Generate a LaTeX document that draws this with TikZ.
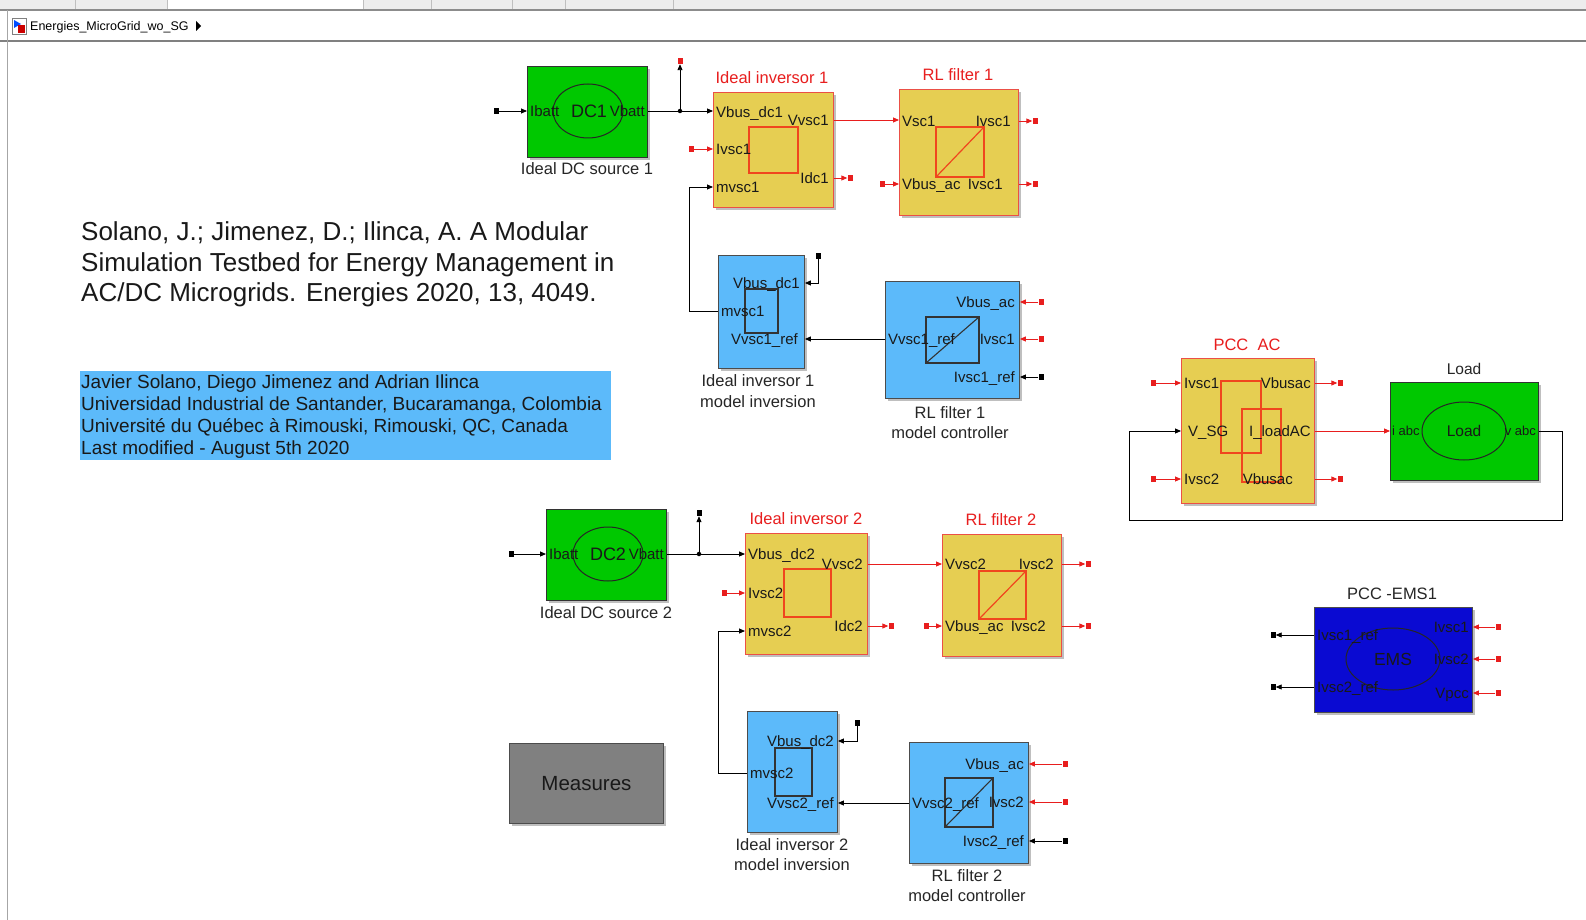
\documentclass[tikz,border=0pt]{standalone}
\usepackage{fontspec}
\setmainfont{Liberation Sans}
\usetikzlibrary{arrows.meta,shadows,calc}
\definecolor{sgreen}{RGB}{0,200,0}
\definecolor{syel}{RGB}{230,206,82}
\definecolor{sred}{RGB}{232,30,30}
\definecolor{sorange}{RGB}{240,70,30}
\definecolor{sborder}{RGB}{235,80,70}
\definecolor{sblue}{RGB}{92,186,250}
\definecolor{sdblue}{RGB}{10,10,210}
\definecolor{sgray}{RGB}{128,128,128}
\begin{document}
\begin{tikzpicture}[x=1pt,y=-1pt,>={Triangle[length=6pt,width=5pt]},
  blk/.style={rectangle,draw,anchor=north west,inner sep=0,line width=0.9pt,
    drop shadow={shadow xshift=2.5pt,shadow yshift=-2.5pt,opacity=0.5}},
  yblk/.style={blk,fill=syel,draw=sborder},
  gblk/.style={blk,fill=sgreen,draw=black!80},
  bblk/.style={blk,fill=sblue,draw=black!70},
  dblk/.style={blk,fill=sdblue,draw=black!70},
  mblk/.style={blk,fill=sgray,draw=black!70},
  term/.style={rectangle,fill=black,minimum width=5pt,minimum height=6pt,inner sep=0},
  rterm/.style={term,fill=sred},
  jdot/.style={circle,fill=black,minimum size=4.5pt,inner sep=0},
  sig/.style={draw=black,line width=0.9pt,->},
  rsig/.style={draw=sred,line width=0.9pt,->},
  wire/.style={draw=black,line width=0.9pt},
  p15/.style={inner sep=0,font=\fontsize{15}{17}\selectfont,text height=10.8pt,text depth=0pt,text=black!90},
  p13/.style={p15,font=\fontsize{13}{15}\selectfont,text height=9.4pt},
  p18/.style={p15,font=\fontsize{18}{20}\selectfont,text height=13pt},
  ttl/.style={inner sep=0,font=\fontsize{16.5}{19}\selectfont,text height=11.9pt,text depth=0pt,text=black!85},
  rttl/.style={ttl,text=sred},
  cite/.style={inner sep=0,font=\fontsize{26}{30}\selectfont,text height=18.7pt,text depth=0pt,anchor=west,text=black!90},
  info/.style={inner sep=0,font=\fontsize{19}{22}\selectfont,text height=13.7pt,text depth=0pt,anchor=west,text=black!90},
  insq/.style={draw=sorange,line width=1.2pt},
  insqk/.style={draw=black!80,line width=1.1pt}
]
\useasboundingbox (0,0) rectangle (1586,920);
\fill[white] (0,0) rectangle (1586,920);
% ---- window chrome ----
\fill[black!7] (0,0) rectangle (1586,9);
\fill[white] (167,0) rectangle (363,9);
\foreach \xx in {75,167,363,431,512,565,673}{\draw[black!25,line width=0.6pt] (\xx,0) -- (\xx,9);}
\draw[black!45,line width=1.5pt] (0,9.8) -- (1586,9.8);
\draw[black!50,line width=2pt] (0,41.5) -- (1586,41.5);
\draw[black!35,line width=0.8pt] (7.5,10) -- (7.5,920);
\draw[black!50,fill=white,line width=0.6pt] (12,18) rectangle (26,34);
\fill[blue!70!cyan] (14,20) -- (21,24) -- (14,28) -- cycle;
\fill[red!80!black] (18,25) rectangle (25,33);
\node[inner sep=0,anchor=west,font=\fontsize{12.5}{14}\selectfont,text height=9pt,text depth=0pt] (crumb) at (30,26) {Energies\_MicroGrid\_wo\_SG};
\fill[black] (196,21) -- (201,26) -- (196,31) -- cycle;

% ---- citation ----
\node[cite] (c1) at (81,231) {Solano, J.; Jimenez, D.; Ilinca, A. A Modular};
\node[cite] (c2) at (81,262) {Simulation Testbed for Energy Management in};
\node[cite] (c3) at (81,292) {AC/DC Microgrids. Energies 2020, 13, 4049.};
\node[fill=sblue,anchor=north west,minimum width=531pt,minimum height=89pt,inner sep=0] (infobox) at (80,371) {};
\node[info] (i1) at (81,382) {Javier Solano, Diego Jimenez and Adrian Ilinca};
\node[info] (i2) at (81,404) {Universidad Industrial de Santander, Bucaramanga, Colombia};
\node[info] (i3) at (81,426) {Université du Québec à Rimouski, Rimouski, QC, Canada};
\node[info] (i4) at (81,448) {Last modified - August 5th 2020};

% ---- DC source 1 ----
\node[gblk,minimum width=120pt,minimum height=91pt] (dc1) at (527,66) {};
\draw[black!85,line width=1pt] (588,111) ellipse [x radius=35pt,y radius=27pt];
\node[p15,anchor=west] (dc1a) at (530,111) {Ibatt};
\node[p18] (dc1b) at (589,111) {DC1};
\node[p15,anchor=east] (dc1c) at (645,111) {Vbatt};
\node[ttl] (dc1l) at (587,169) {Ideal DC source 1};
\node[term] (tdc1) at (496,111) {};
\draw[sig] (tdc1) -- (dc1.west |- tdc1);
\node[jdot] (j1) at (680,111) {};
\draw[wire] (dc1.east |- j1) -- (j1);
\node[rterm] (tj1) at (680,61) {};
\draw[sig] (j1) -- (tj1);

% ---- Ideal inversor 1 ----
\node[yblk,minimum width=120pt,minimum height=115pt] (inv1) at (713,92) {};
\node[rttl] (inv1t) at (772,78) {Ideal inversor 1};
\draw[insq] (749,127) rectangle (798,173);
\node[p15,anchor=west] (inv1a) at (716,112) {Vbus\_dc1};
\node[p15,anchor=east] (inv1b) at (829,120) {Vvsc1};
\node[p15,anchor=west] (inv1c) at (716,149) {Ivsc1};
\node[p15,anchor=east] (inv1d) at (829,178) {Idc1};
\node[p15,anchor=west] (inv1e) at (716,187) {mvsc1};
\draw[sig] (j1) -- (inv1.west |- j1);
\node[rterm] (ti1) at (691,149) {};
\draw[rsig] (ti1) -- (inv1.west |- ti1);
\node[rterm] (to1) at (850,178) {};
\draw[rsig] (inv1.east |- to1) -- (to1);

% ---- RL filter 1 ----
\node[yblk,minimum width=119pt,minimum height=126pt] (rl1) at (899,89) {};
\node[rttl] (rl1t) at (958,75) {RL filter 1};
\draw[insq] (936,127) rectangle (984,177);
\draw[insq] (936,177) -- (984,127);
\node[p15,anchor=west] (rl1a) at (902,121) {Vsc1};
\node[p15,anchor=east] (rl1b) at (1011,121) {Ivsc1};
\node[p15,anchor=west] (rl1c) at (902,184) {Vbus\_ac};
\node[p15,anchor=east] (rl1d) at (1003,184) {Ivsc1};
\draw[rsig] (inv1.east |- 0,120) -- (rl1.west |- 0,120);
\node[rterm] (tr1a) at (1035,121) {};
\node[rterm] (tr1b) at (1035,184) {};
\node[rterm] (tr1c) at (882,184) {};
\draw[rsig] (rl1.east |- tr1a) -- (tr1a);
\draw[rsig] (rl1.east |- tr1b) -- (tr1b);
\draw[rsig] (tr1c) -- (rl1.west |- tr1c);

% ---- Ideal inversor 1 model inversion ----
\node[bblk,minimum width=86pt,minimum height=113pt] (minv1) at (718,255) {};
\draw[insqk] (745,289) rectangle (778,333);
\node[p15,anchor=east] (minv1a) at (800,283) {Vbus\_dc1};
\node[p15,anchor=west] (minv1b) at (721,311) {mvsc1};
\node[p15,anchor=east] (minv1c) at (798,339) {Vvsc1\_ref};
\node[ttl] (minv1l) at (758,381) {Ideal inversor 1};
\node[ttl] (minv1m) at (758,402) {model inversion};
\node[term] (tm1) at (818,256) {};
\draw[sig] (tm1) |- (minv1.east |- 0,283);
\draw[sig] (minv1.west |- 0,311) -- (689,311) |- (inv1.west |- 0,187);

% ---- RL filter 1 model controller ----
\node[bblk,minimum width=134pt,minimum height=117pt] (ctl1) at (885,281) {};
\draw[insqk] (926,317) rectangle (979,363);
\draw[insqk] (926,363) -- (979,317);
\node[p15,anchor=west] (ctl1a) at (888,339) {Vvsc1\_ref};
\node[p15,anchor=east] (ctl1b) at (1015,302) {Vbus\_ac};
\node[p15,anchor=east] (ctl1c) at (1015,339) {Ivsc1};
\node[p15,anchor=east] (ctl1d) at (1015,377) {Ivsc1\_ref};
\node[ttl] (ctl1l) at (950,413) {RL filter 1};
\node[ttl] (ctl1m) at (950,433) {model controller};
\draw[sig] (ctl1.west |- 0,339) -- (minv1.east |- 0,339);
\node[rterm] (tc1a) at (1041,302) {};
\node[rterm] (tc1b) at (1041,339) {};
\node[term] (tc1c) at (1041,377) {};
\draw[rsig] (tc1a) -- (ctl1.east |- tc1a);
\draw[rsig] (tc1b) -- (ctl1.east |- tc1b);
\draw[sig] (tc1c) -- (ctl1.east |- tc1c);

% ---- PCC AC ----
\node[yblk,minimum width=133pt,minimum height=145pt] (pcc) at (1181,358) {};
\node[rttl] (pcct) at (1247,345) {PCC\ \ AC};
\draw[insq] (1221,381) rectangle (1261,453);
\draw[insq] (1242,409) rectangle (1281,482);
\node[p15,anchor=west] (pcca) at (1184,383) {Ivsc1};
\node[p15,anchor=west] (pccb) at (1188,431) {V\_SG};
\node[p15,anchor=west] (pccc) at (1184,479) {Ivsc2};
\node[p15,anchor=east] (pccd) at (1311,383) {Vbusac};
\node[p15,anchor=east] (pcce) at (1311,431) {I\_loadAC};
\node[p15,anchor=east] (pccf) at (1293,479) {Vbusac};
\node[rterm] (tp1) at (1153,383) {};
\node[rterm] (tp2) at (1153,479) {};
\node[rterm] (tp3) at (1340,383) {};
\node[rterm] (tp4) at (1340,479) {};
\draw[rsig] (tp1) -- (pcc.west |- tp1);
\draw[rsig] (tp2) -- (pcc.west |- tp2);
\draw[rsig] (pcc.east |- tp3) -- (tp3);
\draw[rsig] (pcc.east |- tp4) -- (tp4);

% ---- Load ----
\node[gblk,minimum width=148pt,minimum height=98pt] (load) at (1390,382) {};
\node[ttl,font=\fontsize{15.5}{18}\selectfont,text height=11.2pt] (loadt) at (1464,369) {Load};
\draw[black!85,line width=1pt] (1464,431) ellipse [x radius=42pt,y radius=29pt];
\node[p15,font=\fontsize{15.5}{18}\selectfont,text height=11.2pt] (loadc) at (1464,431) {Load};
\node[p13,anchor=west] (loada) at (1392,431) {i abc};
\node[p13,anchor=east] (loadb) at (1536,431) {v abc};
\draw[rsig] (pcc.east |- 0,431) -- (load.west |- 0,431);
\draw[sig] (load.east |- 0,431) -- (1562,431) -- (1562,520) -- (1129,520) -- (1129,431) -- (pcc.west |- 0,431);

% ---- DC source 2 ----
\node[gblk,minimum width=120pt,minimum height=91pt] (dc2) at (546,509) {};
\draw[black!85,line width=1pt] (608,554) ellipse [x radius=35pt,y radius=27pt];
\node[p15,anchor=west] (dc2a) at (549,554) {Ibatt};
\node[p18] (dc2b) at (608,554) {DC2};
\node[p15,anchor=east] (dc2c) at (664,554) {Vbatt};
\node[ttl] (dc2l) at (606,613) {Ideal DC source 2};
\node[term] (tdc2) at (511,554) {};
\draw[sig] (tdc2) -- (dc2.west |- tdc2);
\node[jdot] (j2) at (699,554) {};
\draw[wire] (dc2.east |- j2) -- (j2);
\node[term] (tj2) at (699,513) {};
\draw[sig] (j2) -- (tj2);

% ---- Ideal inversor 2 ----
\node[yblk,minimum width=122pt,minimum height=121pt] (inv2) at (745,533) {};
\node[rttl] (inv2t) at (806,519) {Ideal inversor 2};
\draw[insq] (784,569) rectangle (831,617);
\node[p15,anchor=west] (inv2a) at (748,554) {Vbus\_dc2};
\node[p15,anchor=east] (inv2b) at (863,564) {Vvsc2};
\node[p15,anchor=west] (inv2c) at (748,593) {Ivsc2};
\node[p15,anchor=east] (inv2d) at (863,626) {Idc2};
\node[p15,anchor=west] (inv2e) at (748,631) {mvsc2};
\draw[sig] (j2) -- (inv2.west |- j2);
\node[rterm] (ti2) at (724,593) {};
\draw[rsig] (ti2) -- (inv2.west |- ti2);
\node[rterm] (to2) at (891,626) {};
\draw[rsig] (inv2.east |- to2) -- (to2);

% ---- RL filter 2 ----
\node[yblk,minimum width=119pt,minimum height=122pt] (rl2) at (942,534) {};
\node[rttl] (rl2t) at (1001,520) {RL filter 2};
\draw[insq] (979,571) rectangle (1026,619);
\draw[insq] (979,619) -- (1026,571);
\node[p15,anchor=west] (rl2a) at (945,564) {Vvsc2};
\node[p15,anchor=east] (rl2b) at (1054,564) {Ivsc2};
\node[p15,anchor=west] (rl2c) at (945,626) {Vbus\_ac};
\node[p15,anchor=east] (rl2d) at (1046,626) {Ivsc2};
\draw[rsig] (inv2.east |- 0,564) -- (rl2.west |- 0,564);
\node[rterm] (tr2a) at (1088,564) {};
\node[rterm] (tr2b) at (1088,626) {};
\node[rterm] (tr2c) at (926,626) {};
\draw[rsig] (rl2.east |- tr2a) -- (tr2a);
\draw[rsig] (rl2.east |- tr2b) -- (tr2b);
\draw[rsig] (tr2c) -- (rl2.west |- tr2c);

% ---- Ideal inversor 2 model inversion ----
\node[bblk,minimum width=90pt,minimum height=121pt] (minv2) at (747,711) {};
\draw[insqk] (775,748) rectangle (812,796);
\node[p15,anchor=east] (minv2a) at (834,741) {Vbus\_dc2};
\node[p15,anchor=west] (minv2b) at (750,773) {mvsc2};
\node[p15,anchor=east] (minv2c) at (834,803) {Vvsc2\_ref};
\node[ttl] (minv2l) at (792,845) {Ideal inversor 2};
\node[ttl] (minv2m) at (792,865) {model inversion};
\node[term] (tm2) at (857,723) {};
\draw[sig] (tm2) |- (minv2.east |- 0,741);
\draw[sig] (minv2.west |- 0,773) -- (718,773) |- (inv2.west |- 0,631);

% ---- RL filter 2 model controller ----
\node[bblk,minimum width=119pt,minimum height=121pt] (ctl2) at (909,742) {};
\draw[insqk] (945,778) rectangle (993,827);
\draw[insqk] (945,827) -- (993,778);
\node[p15,anchor=west] (ctl2a) at (912,803) {Vvsc2\_ref};
\node[p15,anchor=east] (ctl2b) at (1024,764) {Vbus\_ac};
\node[p15,anchor=east] (ctl2c) at (1024,802) {Ivsc2};
\node[p15,anchor=east] (ctl2d) at (1024,841) {Ivsc2\_ref};
\node[ttl] (ctl2l) at (967,876) {RL filter 2};
\node[ttl] (ctl2m) at (967,896) {model controller};
\draw[sig] (ctl2.west |- 0,803) -- (minv2.east |- 0,803);
\node[rterm] (tc2a) at (1065,764) {};
\node[rterm] (tc2b) at (1065,802) {};
\node[term] (tc2c) at (1065,841) {};
\draw[rsig] (tc2a) -- (ctl2.east |- tc2a);
\draw[rsig] (tc2b) -- (ctl2.east |- tc2b);
\draw[sig] (tc2c) -- (ctl2.east |- tc2c);

% ---- PCC-EMS1 ----
\node[dblk,minimum width=158pt,minimum height=105pt] (ems) at (1314,607) {};
\node[ttl] (emst) at (1392,594) {PCC -EMS1};
\draw[black!85,line width=1pt] (1393,659) ellipse [x radius=47pt,y radius=31pt];
\node[p15,font=\fontsize{17.5}{20}\selectfont,text height=12.6pt] (emsc) at (1393,659) {EMS};
\node[p15,anchor=west] (emsa) at (1317,635) {Ivsc1\_ref};
\node[p15,anchor=west] (emsb) at (1317,687) {Ivsc2\_ref};
\node[p15,anchor=east] (emsd) at (1469,627) {Ivsc1};
\node[p15,anchor=east] (emse) at (1469,659) {Ivsc2};
\node[p15,anchor=east] (emsf) at (1469,693) {Vpcc};
\node[term] (te1) at (1273,635) {};
\node[term] (te2) at (1273,687) {};
\draw[sig] (ems.west |- te1) -- (te1);
\draw[sig] (ems.west |- te2) -- (te2);
\node[rterm] (te3) at (1498,627) {};
\node[rterm] (te4) at (1498,659) {};
\node[rterm] (te5) at (1498,693) {};
\draw[rsig] (te3) -- (ems.east |- te3);
\draw[rsig] (te4) -- (ems.east |- te4);
\draw[rsig] (te5) -- (ems.east |- te5);

% ---- Measures ----
\node[mblk,minimum width=154pt,minimum height=80pt,font=\fontsize{20.5}{23}\selectfont,text=black!90] (meas) at (509,743) {Measures};
\end{tikzpicture}
\end{document}
